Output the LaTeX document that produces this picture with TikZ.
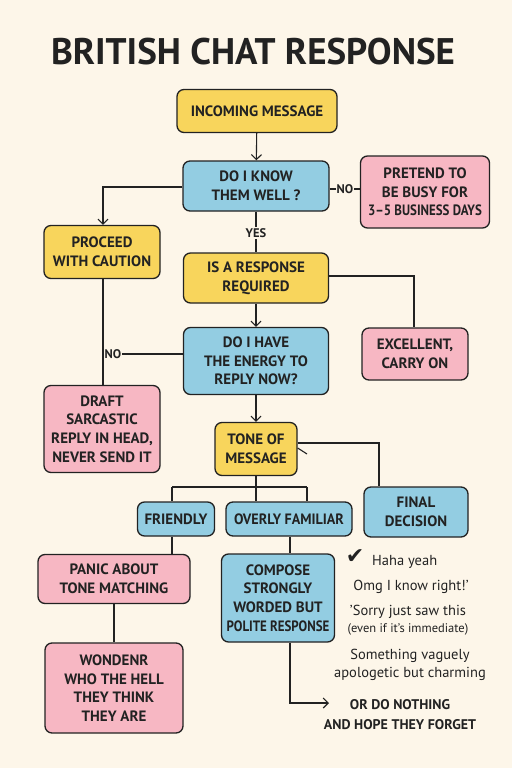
\documentclass[tikz,border=0pt]{standalone}
\usepackage{fontspec}
\usepackage{graphicx}
\setmainfont{PT Sans}
\newfontfamily\symfont{DejaVu Sans}
\usetikzlibrary{arrows.meta, positioning, calc}

\definecolor{paper}{HTML}{FDF6E9}
\definecolor{ink}{HTML}{222222}
\definecolor{sun}{HTML}{F8D55C}
\definecolor{sky}{HTML}{93CDE2}
\definecolor{rose}{HTML}{F7B7C3}

\newcommand{\squeeze}[2][0.86]{\scalebox{#1}[1]{#2}}

\begin{document}
\begin{tikzpicture}[
    x=1pt, y=-1pt,
    box/.style={rectangle, rounded corners=7pt, draw=ink, line width=1.3pt, fill=sun, align=center, inner sep=0pt, font=\fontsize{15}{18.7}\selectfont\bfseries, text=ink},
    ybox/.style={box, fill=sun},
    bbox/.style={box, fill=sky},
    pbox/.style={box, fill=rose},
    arrow/.style={-{Straight Barb[length=5pt, width=10pt]}, line width=1.1pt, draw=ink},
    wire/.style={line width=1.1pt, draw=ink},
    lbl/.style={font=\fontsize{12.5}{14}\selectfont\bfseries, text=ink, inner sep=1pt, fill=paper},
    note/.style={font=\fontsize{14.5}{18}\selectfont, text=ink, align=center, inner sep=0pt}
  ]
    \fill[paper] (0,0) rectangle (512,768);
    \node[font=\fontsize{37}{40}\selectfont\bfseries, text=ink] (title) at (253,52) {BRITISH CHAT RESPONSE};

    % main column
    \node[ybox, minimum width=160pt, minimum height=43pt] (incoming) at (257,111) {INCOMING MESSAGE};
    \node[bbox, minimum width=146pt, minimum height=50pt] (knowwell) at (256,186) {DO I KNOW\\THEM WELL ?};
    \node[pbox, minimum width=129pt, minimum height=72pt] (pretend) at (425,192) {PRETEND TO\\BE BUSY FOR\\\squeeze{3--5 BUSINESS DAYS}};
    \node[ybox, minimum width=116pt, minimum height=53pt] (caution) at (102,252) {PROCEED\\WITH CAUTION};
    \node[ybox, minimum width=145pt, minimum height=50pt] (required) at (256,278) {IS A RESPONSE\\REQUIRED};
    \node[pbox, minimum width=106pt, minimum height=52pt] (carryon) at (415,354) {EXCELLENT,\\CARRY ON};
    \node[bbox, minimum width=145pt, minimum height=67pt] (energy) at (256,361) {DO I HAVE\\THE ENERGY TO\\REPLY NOW?};
    \node[pbox, minimum width=116pt, minimum height=87pt] (draft) at (102,429) {DRAFT\\SARCASTIC\\REPLY IN HEAD,\\NEVER SEND IT};
    \node[ybox, minimum width=82pt, minimum height=53pt] (tone) at (256,449) {TONE OF\\MESSAGE};
    \node[bbox, minimum width=104pt, minimum height=50pt] (decision) at (416,512) {FINAL\\DECISION};
    \node[bbox, minimum width=77pt, minimum height=34pt] (friendly) at (176,519) {FRIENDLY};
    \node[bbox, minimum width=126pt, minimum height=34pt] (familiar) at (289,519) {\squeeze[0.94]{OVERLY FAMILIAR}};
    \node[pbox, minimum width=152pt, minimum height=49pt] (panic) at (114,579) {PANIC ABOUT\\TONE MATCHING};
    \node[pbox, minimum width=138pt, minimum height=90pt] (wonder) at (114,688) {WONDENR\\WHO THE HELL\\THEY THINK\\THEY ARE};
    \node[bbox, minimum width=113pt, minimum height=88pt] (compose) at (278,598) {COMPOSE\\STRONGLY\\WORDED BUT\\\squeeze{POLITE RESPONSE}};

    % labels on the wires
    \node[lbl] (nopretend) at (345,189) {NO};
    \node[lbl] (yes) at (256,233) {YES};
    \node[lbl] (nodraft) at (113,354) {NO};

    % replies on the right
    \node[note, anchor=west] (haha) at (372,562) {Haha yeah};
    \node[text=ink, font=\symfont\fontsize{22}{22}\selectfont\bfseries, inner sep=0pt] (tick) at (355,557) {✔};
    \node[note] (omg) at (411,587) {Omg I know right!'};
    \node[note] (sorry) at (408,612) {'Sorry just saw this};
    \node[note, font=\fontsize{12.5}{14}\selectfont] (even) at (408,629) {(even if it's immediate)};
    \node[note] (vague) at (410,665) {Something vaguely\\apologetic but charming};
    \node[note, font=\fontsize{14}{20}\selectfont\bfseries] (nothing) at (400,715) {OR DO NOTHING\\AND HOPE THEY FORGET};

    \coordinate (turn) at (103,187);
    \coordinate (riser) at (414,276);
    \coordinate (elbow) at (379,443);
    \coordinate (mark) at (307,454);
    \coordinate (split) at (256,487);
    \coordinate (splitl) at (172,487);
    \coordinate (splitr) at (307,487);
    \coordinate (arrtip) at (329,703);

    % connectors
    \draw[arrow] (incoming) -- (knowwell);
    \draw[wire] (knowwell.east |- nopretend) -- (nopretend.west);
    \draw[wire] (nopretend.east) -- (nopretend -| pretend.west);
    \draw[arrow] (knowwell.west |- turn) -- (turn) -- (caution.north -| turn);
    \draw[wire] (knowwell) -- (yes);
    \draw[wire] (yes) -- (required);
    \draw[wire] (required.east |- riser) -- (riser) -- (carryon.north -| riser);
    \draw[arrow] (required) -- (energy);
    \draw[wire] (caution.south -| turn) -- (draft.north -| turn);
    \draw[wire] (energy.west |- nodraft) -- (nodraft.east);
    \draw[arrow] (energy) -- (tone);
    \draw[wire] (tone.east |- elbow) -- (elbow) -- (decision.north -| elbow);
    \draw[wire] ($(tone.east)+(0,-1)$) -- (mark);
    \draw[wire] (tone) -- (split);
    \draw[wire] (splitl) -- (splitr);
    \draw[wire] (splitl) -- (friendly.north -| splitl);
    \draw[wire] (split) -- (familiar.north -| split);
    \draw[wire] (splitr) -- (familiar.north -| splitr);
    \draw[wire] (friendly.south -| splitl) -- (panic.north -| splitl);
    \draw[wire] (panic) -- (wonder);
    \draw[wire] (familiar.south -| 290,0) -- (compose.north -| 290,0);
    \draw[arrow] (compose.south -| 290,0) |- (arrtip);
  \end{tikzpicture}
\end{document}
